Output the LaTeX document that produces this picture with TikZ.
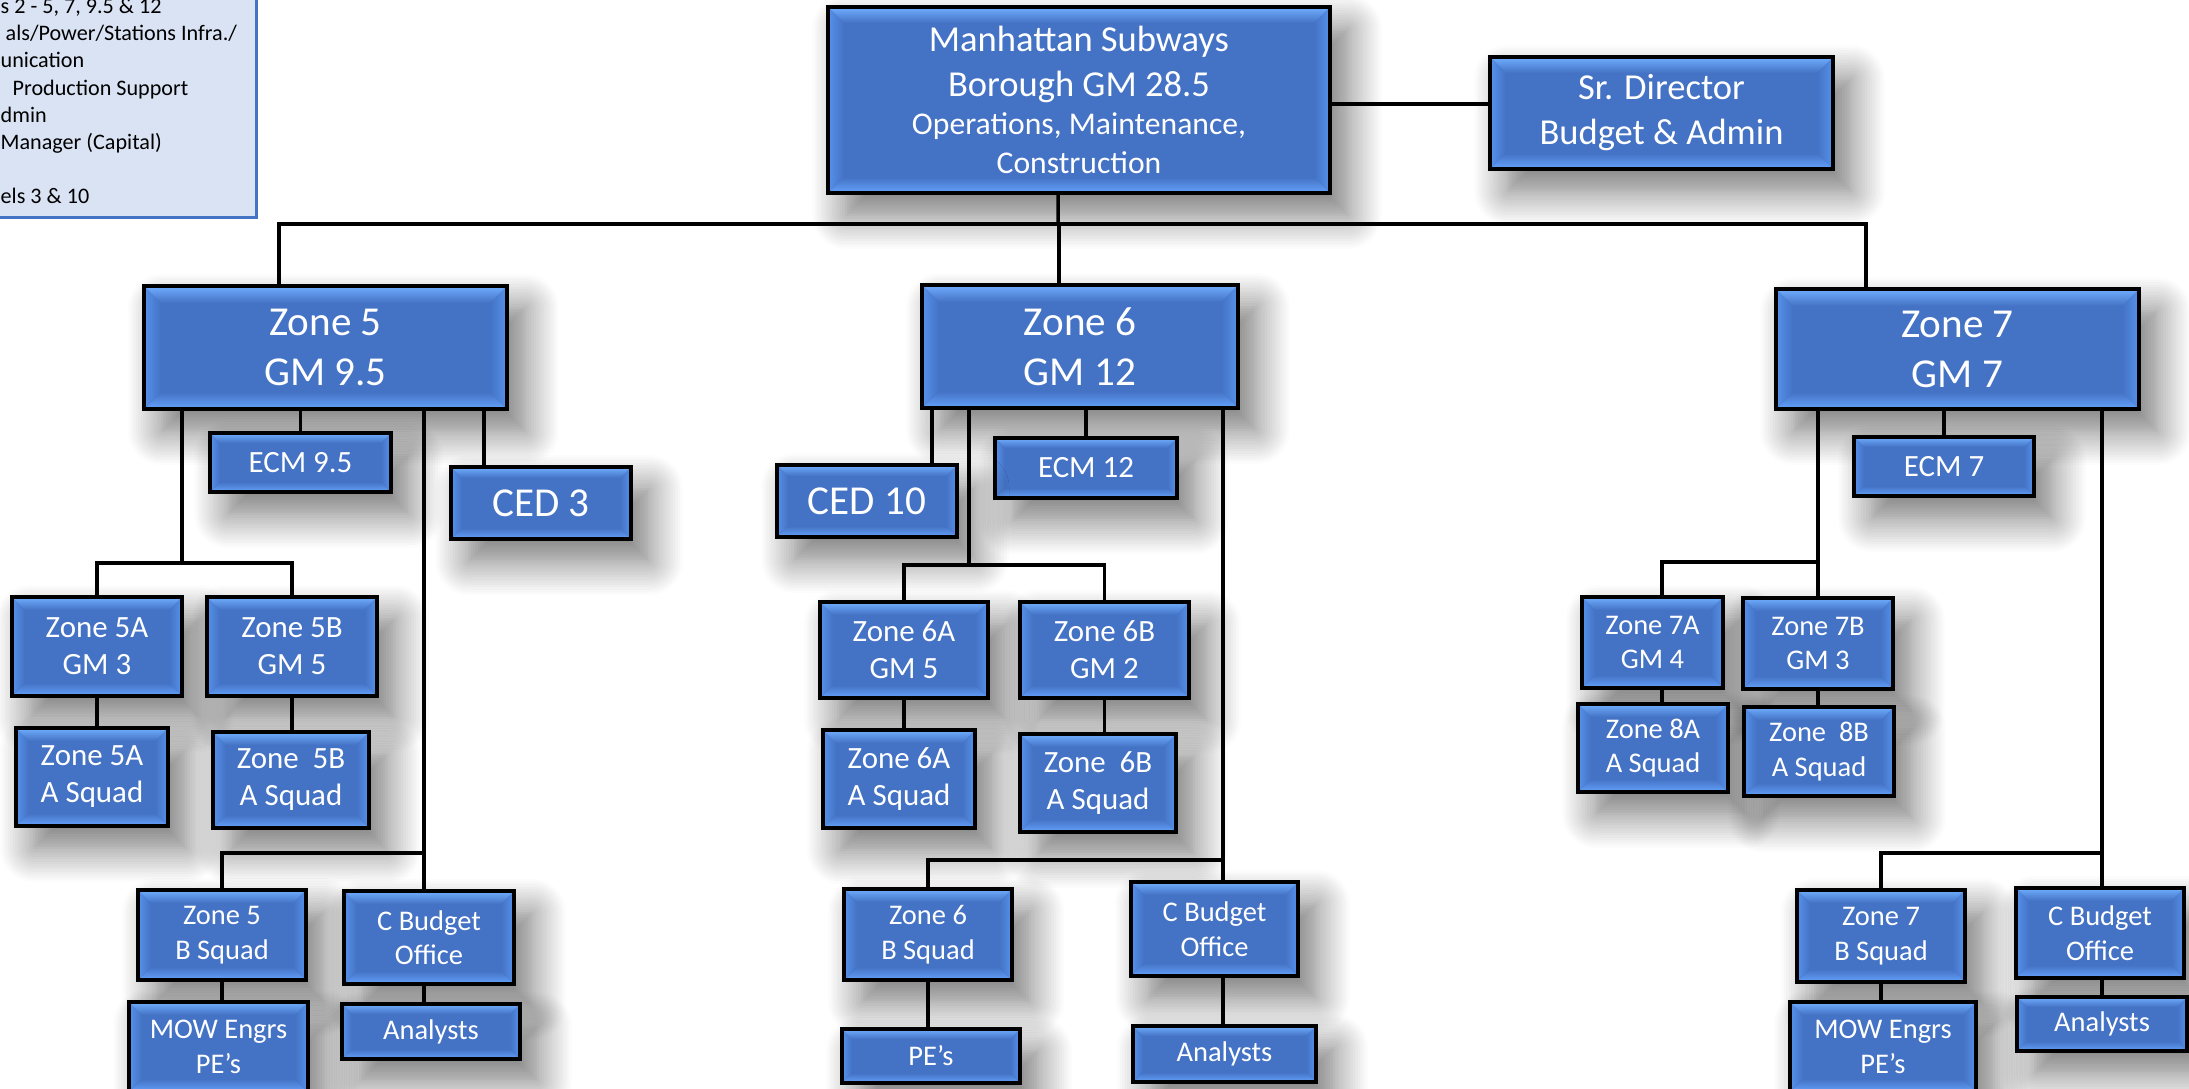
\documentclass[tikz,border=0pt]{standalone}
\usepackage{fontspec}
\setmainfont{Carlito}
\usepackage{tikz}
\usetikzlibrary{shadows.blur}
\definecolor{bevface}{RGB}{68,114,196}
\definecolor{bevlight}{RGB}{112,174,255}
\definecolor{bevlow}{RGB}{100,162,252}
\definecolor{bevside}{RGB}{86,146,236}
\definecolor{notefill}{RGB}{218,227,243}
\definecolor{noteline}{RGB}{68,114,196}
\newcommand\bevelpaint{%
  \coordinate (bnw) at (path picture bounding box.north west);
  \coordinate (bne) at (path picture bounding box.north east);
  \coordinate (bsw) at (path picture bounding box.south west);
  \coordinate (bse) at (path picture bounding box.south east);
  \fill[left color=bevside, right color=bevface] (bnw) -- ([shift={(\bevw,-\bevw)}]bnw) -- ([shift={(\bevw,\bevw)}]bsw) -- (bsw) -- cycle;
  \fill[left color=bevface, right color=bevside] (bne) -- ([shift={(-\bevw,-\bevw)}]bne) -- ([shift={(-\bevw,\bevw)}]bse) -- (bse) -- cycle;
  \fill[top color=bevlight, bottom color=bevface] (bnw) -- (bne) -- ([shift={(-\bevw,-\bevw)}]bne) -- ([shift={(\bevw,-\bevw)}]bnw) -- cycle;
  \fill[top color=bevface, bottom color=bevlow] ([shift={(\bevw,\bevw)}]bsw) -- ([shift={(-\bevw,\bevw)}]bse) -- (bse) -- (bsw) -- cycle;
}
\tikzset{bevel/.store in=\bevw, bevel=0.13cm}
\tikzstyle{line} = [draw, line width=1pt]
\tikzstyle{block} = [draw=black, line width=0.9pt, fill=bevface, text=white, align=center, inner sep=0pt,
  path picture={\bevelpaint}, blur shadow={shadow xshift=0.18cm, shadow yshift=-0.22cm, shadow blur radius=0.34cm, shadow blur steps=14, shadow opacity=55}]
\tikzstyle{bigtext} = [font=\fontsize{11.7}{14.2}\selectfont, bevel=0.17cm]
\tikzstyle{headtext} = [font=\fontsize{10.4}{12.8}\selectfont, bevel=0.16cm]
\tikzstyle{smalltext} = [font=\fontsize{8.8}{10.5}\selectfont]
\tikzstyle{tinytext} = [font=\fontsize{8.1}{9.8}\selectfont]
\tikzstyle{notebox} = [draw=noteline, line width=0.8pt, fill=notefill]
\tikzstyle{notetext} = [inner sep=0pt, align=left, font=\fontsize{6.3}{7.7}\selectfont]

\begin{document}
\begin{tikzpicture}
    \useasboundingbox (0,0) rectangle (21.89,-10.88);
    \clip (0,0) rectangle (21.89,-10.88);
    % legend, cut by the page edge
    \node[notebox, anchor=south east, minimum width=3.1cm, minimum height=2.7cm] (legend) at (2.58,-2.19) {};
    \node[notetext, anchor=north west] (legendtext) at (0,0.02) {s 2 - 5, 7, 9.5 \& 12\\\hspace*{0.05cm}als/Power/Stations Infra./\\unication\\\hspace*{0.12cm}Production Support\\dmin\\Manager (Capital)\\[7.7pt]els 3 \& 10};

    % top level
    \node[block, headtext, minimum width=5.02cm, minimum height=1.86cm] (borough) at (10.79,-1.00) {Manhattan Subways\\Borough GM 28.5\\[-2pt]\fontsize{9}{10.5}\selectfont Operations, Maintenance,\\[-1.8pt]\fontsize{9}{10.5}\selectfont Construction};
    \node[block, headtext, minimum width=3.43cm, minimum height=1.12cm] (sradmin) at (16.615,-1.13) {Sr. Director\\Budget \& Admin};

    % zone 5
    \node[block, bigtext, minimum width=3.63cm, minimum height=1.23cm] (zone5) at (3.255,-3.475) {Zone 5\\GM 9.5};
    \node[block, smalltext, bevel=0.1cm, minimum width=1.81cm, minimum height=0.59cm] (ecm5) at (3.005,-4.625) {ECM 9.5};
    \node[block, bigtext, bevel=0.11cm, minimum width=1.80cm, minimum height=0.72cm] (ced3) at (5.41,-5.03) {CED 3};
    \node[block, smalltext, minimum width=1.70cm, minimum height=0.99cm] (zone5a) at (0.97,-6.465) {Zone 5A\\GM 3};
    \node[block, smalltext, minimum width=1.70cm, minimum height=0.99cm] (zone5b) at (2.92,-6.465) {Zone 5B\\GM 5};
    \node[block, smalltext, minimum width=1.52cm, minimum height=0.98cm] (squad5a) at (0.92,-7.77) {Zone 5A\\A Squad};
    \node[block, smalltext, minimum width=1.56cm, minimum height=0.96cm] (squad5b) at (2.91,-7.80) {Zone\ \ 5B\\A Squad};
    \node[block, tinytext, minimum width=1.68cm, minimum height=0.90cm] (bsquad5) at (2.22,-9.35) {Zone 5\\B Squad};
    \node[block, tinytext, minimum width=1.70cm, minimum height=0.93cm] (cbudget5) at (4.29,-9.375) {C Budget\\Office};
    \node[block, tinytext, minimum width=1.79cm, minimum height=0.90cm] (mow5) at (2.185,-10.47) {MOW Engrs\\PE’s};
    \node[block, tinytext, bevel=0.1cm, minimum width=1.78cm, minimum height=0.55cm] (analysts5) at (4.31,-10.315) {Analysts};

    % zone 6
    \node[block, bigtext, minimum width=3.16cm, minimum height=1.23cm] (zone6) at (10.80,-3.465) {Zone 6\\GM 12};
    \node[block, smalltext, bevel=0.1cm, minimum width=1.82cm, minimum height=0.60cm] (ecm12) at (10.86,-4.68) {ECM 12};
    \node[block, bigtext, bevel=0.11cm, minimum width=1.80cm, minimum height=0.72cm] (ced10) at (8.67,-5.01) {CED 10};
    \node[block, smalltext, minimum width=1.68cm, minimum height=0.96cm] (zone6a) at (9.04,-6.50) {Zone 6A\\GM 5};
    \node[block, smalltext, minimum width=1.69cm, minimum height=0.96cm] (zone6b) at (11.045,-6.50) {Zone 6B\\GM 2};
    \node[block, smalltext, minimum width=1.52cm, minimum height=0.98cm] (squad6a) at (8.99,-7.79) {Zone 6A\\A Squad};
    \node[block, smalltext, minimum width=1.56cm, minimum height=0.98cm] (squad6b) at (10.98,-7.83) {Zone\ \ 6B\\A Squad};
    \node[block, tinytext, minimum width=1.68cm, minimum height=0.91cm] (bsquad6) at (9.28,-9.345) {Zone 6\\B Squad};
    \node[block, tinytext, minimum width=1.67cm, minimum height=0.94cm] (cbudget6) at (12.145,-9.29) {C Budget\\Office};
    \node[block, tinytext, bevel=0.1cm, minimum width=1.78cm, minimum height=0.54cm] (pe6) at (9.31,-10.56) {PE’s};
    \node[block, tinytext, bevel=0.1cm, minimum width=1.83cm, minimum height=0.56cm] (analysts6) at (12.245,-10.54) {Analysts};

    % zone 7
    \node[block, bigtext, minimum width=3.63cm, minimum height=1.20cm] (zone7) at (19.575,-3.49) {Zone 7\\GM 7};
    \node[block, smalltext, bevel=0.1cm, minimum width=1.80cm, minimum height=0.59cm] (ecm7) at (19.44,-4.665) {ECM 7};
    \node[block, tinytext, minimum width=1.41cm, minimum height=0.91cm] (zone7a) at (16.525,-6.425) {Zone 7A\\GM 4};
    \node[block, tinytext, minimum width=1.50cm, minimum height=0.91cm] (zone7b) at (18.18,-6.435) {Zone 7B\\GM 3};
    \node[block, tinytext, minimum width=1.50cm, minimum height=0.88cm] (squad8a) at (16.53,-7.48) {Zone 8A\\A Squad};
    \node[block, tinytext, minimum width=1.50cm, minimum height=0.89cm] (squad8b) at (18.19,-7.515) {Zone\ \ 8B\\A Squad};
    \node[block, tinytext, minimum width=1.68cm, minimum height=0.92cm] (bsquad7) at (18.81,-9.36) {Zone 7\\B Squad};
    \node[block, tinytext, minimum width=1.68cm, minimum height=0.90cm] (cbudget7) at (21.00,-9.33) {C Budget\\Office};
    \node[block, tinytext, minimum width=1.86cm, minimum height=0.90cm] (mow7) at (18.83,-10.47) {MOW Engrs\\PE’s};
    \node[block, tinytext, bevel=0.1cm, minimum width=1.70cm, minimum height=0.54cm] (analysts7) at (21.02,-10.24) {Analysts};

    % junctions
    \coordinate (hub) at (10.58,-2.24);
    \coordinate (split5) at (1.82,-5.63);
    \coordinate (split5b) at (4.24,-8.53);
    \coordinate (split6) at (9.69,-5.65);
    \coordinate (split6b) at (12.23,-8.60);
    \coordinate (split7) at (16.62,-5.62);
    \coordinate (split7b) at (21.02,-8.53);

    % connectors
    \path[line] ([yshift=-0.04cm]borough.east) -- ([yshift=-0.04cm]borough.east -| sradmin.west);
    \path[line] ([xshift=-0.21cm]borough.south) -- (hub);
    \path[line] ([xshift=-0.465cm]zone5.north) |- (hub) -| ([xshift=-0.915cm]zone7.north);
    \path[line] ([xshift=-0.21cm]zone6.north) -- ([xshift=-0.21cm]zone6.north |- hub);

    \path[line] (zone5.south -| split5) -- (split5);
    \path[line] (zone5a.north) |- (split5) -| (zone5b.north);
    \path[line] (zone5a.south) -- (zone5a.south |- squad5a.north);
    \path[line] (zone5b.south) -- (zone5b.south |- squad5b.north);
    \path[line] (ecm5.north) -- (ecm5.north |- zone5.south);
    \path[line] ([xshift=-0.57cm]ced3.north) -- ([xshift=-0.57cm]ced3.north |- zone5.south);
    \path[line] (zone5.south -| split5b) -- (split5b |- cbudget5.north);
    \path[line] (bsquad5.north) |- (split5b);
    \path[line] (bsquad5.south) -- (bsquad5.south |- mow5.north);
    \path[line] (split5b |- cbudget5.south) -- (split5b |- analysts5.north);

    \path[line] ([xshift=-1.48cm]zone6.south) -- ([xshift=-1.48cm]zone6.south |- ced10.north);
    \path[line] (ecm12.north) -- (ecm12.north |- zone6.south);
    \path[line] (zone6.south -| split6) -- (split6);
    \path[line] (zone6a.north) |- (split6) -| (zone6b.north);
    \path[line] (zone6a.south) -- (zone6a.south |- squad6a.north);
    \path[line] (zone6b.south) -- (zone6b.south |- squad6b.north);
    \path[line] (zone6.south -| split6b) -- (split6b |- cbudget6.north);
    \path[line] (bsquad6.north) |- (split6b);
    \path[line] (bsquad6.south) -- (bsquad6.south |- pe6.north);
    \path[line] (split6b |- cbudget6.south) -- (split6b |- analysts6.north);

    \path[line] (zone7.south -| zone7b) -- (zone7b.north);
    \path[line] (split7 |- zone7a.north) |- (zone7b.north |- split7);
    \path[line] (split7 |- zone7a.south) -- (split7 |- squad8a.north);
    \path[line] (zone7b.south) -- (zone7b.south |- squad8b.north);
    \path[line] (ecm7.north) -- (ecm7.north |- zone7.south);
    \path[line] (zone7.south -| split7b) -- (split7b |- cbudget7.north);
    \path[line] (bsquad7.north) |- (split7b);
    \path[line] (bsquad7.south) -- (bsquad7.south |- mow7.north);
    \path[line] (split7b |- cbudget7.south) -- (split7b |- analysts7.north);
\end{tikzpicture}
\end{document}
